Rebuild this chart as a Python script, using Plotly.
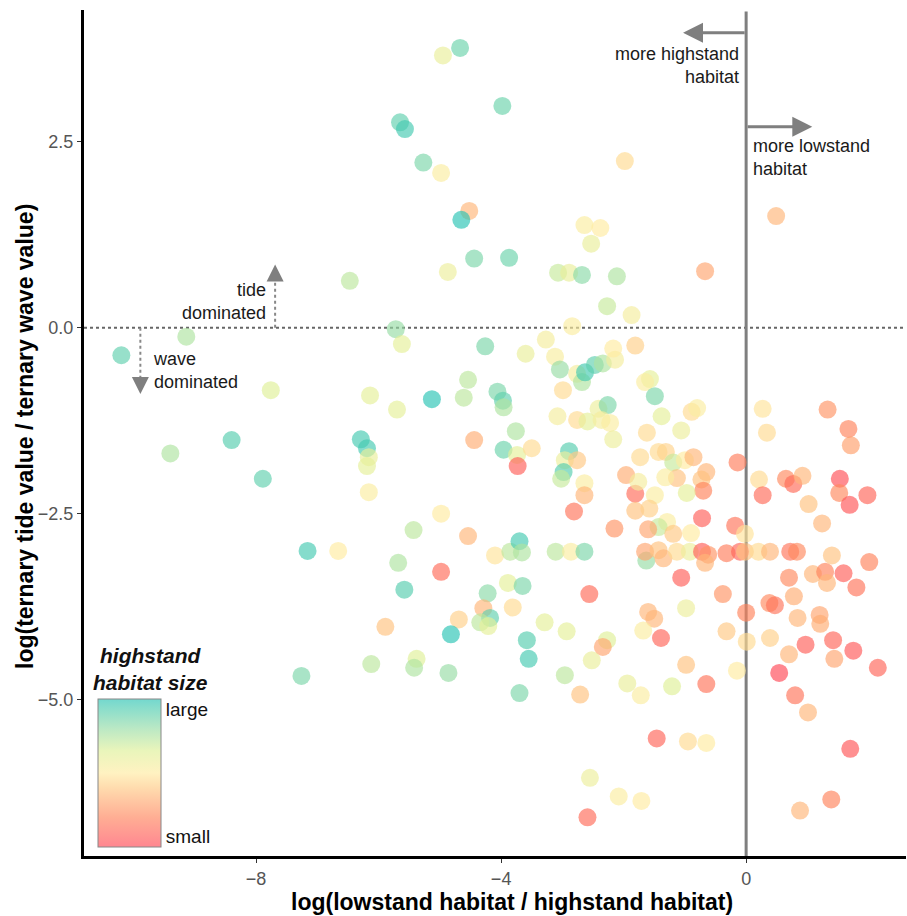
import plotly.graph_objects as go

# log(lowstand habitat / highstand habitat)
x_ratio = [
    -4.95, -4.67, -3.98, -5.65, -5.57, -5.27, -4.98, -1.98, -4.52, -4.65, -2.64, -2.38, -2.53, -4.87, -4.44, -3.87,
    -3.07, -2.89, -2.68, -2.11, -2.27, 0.49, -0.67, -6.47,
    -9.14, -10.20, -7.76, -6.14, -8.40, -9.40, -7.89, -6.29, -6.19, -6.16, -6.19, -6.16, -7.16, -6.66,
    -5.72, -5.62, -4.26, -3.60, -3.27, -2.84, -1.87, -3.12, -3.04, -2.76, -2.68, -2.63, -2.47, -2.34, -2.14, -2.17,
    -1.81, -4.54, -4.61, -5.13, -5.70, -4.06, -3.97, -3.96, -2.99, -3.08, -2.76, -2.59, -2.41, -2.26, -2.36, -2.22,
    -2.17, -3.76, -4.44, -3.96, -3.74, -3.50, -3.73, -2.89, -2.96, -2.76, -2.98, -3.02, -2.64, -2.64, -2.81, -1.96,
    -1.81, -1.81, -2.15, -4.98, -5.43, -4.54, -4.10, -3.85, -3.70, -3.66, -3.11, -2.86, -2.64, -5.68, -4.98, -3.89,
    -3.65,
    -5.58, -4.22, -4.29, -4.18, -4.34, -4.21, -3.81, -4.69, -5.89, -4.82, -5.38, -5.42, -4.86, -6.12, -7.26, -3.58,
    -3.55, -3.70, -3.29, -2.93, -2.56, -2.27, -2.34, -2.52, -2.96, -2.71, -1.94, -1.72, -2.55, -2.08, -1.71, -2.59,
    -1.06, -0.38, -0.98, -1.60, -1.50, -1.68, -1.39, 0.00, -0.32, 0.01, 0.39, -0.98, -0.15, -1.21, -0.65, -1.46,
    -0.95, -0.65, 0.38, 0.47, 0.70, 0.78, 0.84, 0.70, 0.97, 0.54, 0.80, 1.01, 1.20, 1.21, 1.42, 1.44,
    1.75, 2.15, 1.70, 1.39, 0.88, 1.09, 1.29, 1.32, 1.59, 1.80,
    -1.57, -1.65, -1.49, -1.38, -0.89, -0.80, -1.62, -1.06, -1.73, -1.43, -1.31, -1.19, -1.00, -0.86, -0.65, -0.73,
    -0.70, -1.13, -1.32, -1.76, -1.49, -0.97, -1.58, -1.29, -1.43, -1.60, -1.19, -0.90, -0.72, -0.18, -0.02, -0.14,
    -1.63, -1.65, -1.43, -1.35, -1.13, -0.92, -0.72, -0.62, -0.67, -0.32, -0.10, -0.02, 0.20, 0.39, 0.72, 0.83,
    1.40, 2.01, 0.27, 0.34, 1.33, 1.67, 1.71, 0.21, 0.27, 0.65, 0.77, 0.92, 1.02, 1.24, 1.53, 1.52,
    1.69, 1.98,
]

# log(ternary tide value / ternary wave value)
y_ratio = [
    3.66, 3.76, 2.98, 2.76, 2.67, 2.22, 2.08, 2.24, 1.57, 1.45, 1.38, 1.34, 1.13, 0.75, 0.93, 0.94,
    0.74, 0.74, 0.71, 0.69, 0.29, 1.50, 0.76, 0.63,
    -0.12, -0.37, -0.84, -0.91, -1.51, -1.69, -2.03, -1.50, -1.62, -1.74, -1.86, -2.21, -3.00, -3.00,
    -0.02, -0.22, -0.25, -0.35, -0.16, 0.02, 0.17, -0.39, -0.56, -0.62, -0.73, -0.60, -0.50, -0.48, -0.43, -0.28,
    -0.24, -0.70, -0.94, -0.96, -1.10, -0.86, -0.98, -1.07, -0.84, -1.19, -1.24, -1.26, -1.09, -1.04, -1.24, -1.28,
    -1.50, -1.39, -1.51, -1.64, -1.71, -1.62, -1.86, -1.66, -1.78, -1.78, -1.94, -2.03, -2.09, -2.25, -2.47, -1.98,
    -2.23, -2.46, -2.70, -2.50, -2.72, -2.80, -3.06, -3.01, -2.87, -3.02, -3.01, -3.01, -3.01, -3.16, -3.28, -3.43,
    -3.47,
    -3.52, -3.57, -3.77, -3.90, -3.96, -4.01, -3.76, -3.92, -4.02, -4.12, -4.45, -4.57, -4.64, -4.52, -4.68, -4.20,
    -4.45, -4.91, -3.96, -4.08, -3.58, -4.20, -4.29, -4.47, -4.67, -4.93, -4.78, -4.94, -6.05, -6.30, -6.36, -6.58,
    -3.36, -3.58, -3.77, -3.82, -3.91, -4.07, -4.17, -3.83, -4.08, -4.22, -4.17, -4.53, -4.61, -4.82, -4.79, -5.52,
    -5.56, -5.58, -3.70, -3.73, -3.36, -3.61, -3.90, -4.39, -4.26, -4.64, -4.94, -5.17, -3.86, -3.98, -4.20, -4.45,
    -4.34, -4.57, -5.66, -6.34, -6.49, -3.31, -3.28, -3.43, -3.30, -3.49,
    -0.69, -0.73, -0.92, -1.19, -1.13, -1.08, -1.41, -1.38, -1.74, -1.67, -1.67, -1.81, -1.78, -1.74, -1.94, -2.04,
    -2.19, -2.02, -2.01, -2.07, -2.25, -2.22, -2.43, -2.61, -2.68, -2.71, -2.77, -2.76, -2.56, -2.66, -2.77, -1.81,
    -3.13, -3.01, -2.99, -3.10, -3.01, -3.01, -3.01, -3.05, -3.16, -3.03, -3.01, -3.01, -3.01, -3.01, -3.01, -3.01,
    -3.06, -3.15, -1.09, -1.41, -1.10, -1.36, -1.58, -2.04, -2.25, -2.03, -2.10, -1.99, -2.37, -2.63, -2.03, -2.22,
    -2.38, -2.25,
]

# highstand habitat size (0 = small, 1 = large)
habitat_size = [
    0.60, 0.88, 0.88, 0.90, 0.95, 0.85, 0.52, 0.45, 0.35, 1.00, 0.52, 0.50, 0.60, 0.58, 0.85, 0.88,
    0.70, 0.60, 0.82, 0.75, 0.70, 0.35, 0.30, 0.72,
    0.75, 0.90, 0.65, 0.62, 0.92, 0.75, 0.90, 0.95, 0.95, 0.60, 0.62, 0.52, 0.95, 0.50,
    0.80, 0.62, 0.85, 0.60, 0.55, 0.52, 0.55, 0.53, 0.80, 0.55, 0.75, 0.95, 0.90, 0.75, 0.55, 0.50,
    0.42, 0.72, 0.72, 1.00, 0.62, 0.85, 0.90, 0.75, 0.45, 0.55, 0.45, 0.62, 0.58, 0.85, 0.55, 0.52,
    0.58, 0.75, 0.32, 0.88, 0.62, 0.45, 0.08, 0.92, 0.58, 0.40, 0.92, 0.70, 0.52, 0.35, 0.15, 0.32,
    0.12, 0.38, 0.25, 0.50, 0.72, 0.35, 0.48, 0.72, 0.95, 0.75, 0.72, 0.52, 0.85, 0.75, 0.12, 0.62,
    0.85,
    0.92, 0.82, 0.35, 0.90, 0.72, 0.62, 0.45, 0.42, 0.38, 1.00, 0.65, 0.75, 0.80, 0.72, 0.85, 0.92,
    0.95, 0.85, 0.62, 0.62, 0.12, 0.65, 0.30, 0.60, 0.72, 0.38, 0.60, 0.52, 0.58, 0.52, 0.50, 0.12,
    0.08, 0.25, 0.58, 0.35, 0.35, 0.52, 0.10, 0.20, 0.40, 0.45, 0.42, 0.38, 0.50, 0.65, 0.15, 0.10,
    0.45, 0.50, 0.22, 0.15, 0.22, 0.32, 0.35, 0.35, 0.08, 0.00, 0.15, 0.35, 0.30, 0.32, 0.10, 0.30,
    0.06, 0.10, 0.05, 0.20, 0.35, 0.35, 0.20, 0.35, 0.08, 0.15,
    0.62, 0.52, 0.85, 0.62, 0.45, 0.52, 0.45, 0.58, 0.45, 0.45, 0.43, 0.70, 0.50, 0.35, 0.35, 0.38,
    0.20, 0.38, 0.52, 0.55, 0.52, 0.62, 0.42, 0.52, 0.70, 0.30, 0.40, 0.50, 0.08, 0.15, 0.48, 0.18,
    0.80, 0.30, 0.38, 0.35, 0.45, 0.58, 0.08, 0.25, 0.35, 0.18, 0.10, 0.38, 0.45, 0.35, 0.15, 0.22,
    0.38, 0.20, 0.48, 0.45, 0.25, 0.20, 0.28, 0.45, 0.12, 0.22, 0.12, 0.35, 0.38, 0.35, 0.03, 0.22,
    0.05, 0.10,
]

x_range = [-10.81, 2.61]
y_range = [-7.10, 4.27]

colorscale = [
    [0.0, "rgba(255,70,85,0.65)"],
    [0.2, "rgba(255,130,90,0.65)"],
    [0.4, "rgba(255,200,130,0.65)"],
    [0.5, "rgba(255,235,160,0.65)"],
    [0.65, "rgba(222,240,150,0.65)"],
    [0.8, "rgba(150,220,165,0.65)"],
    [1.0, "rgba(40,195,180,0.65)"],
]

FONT = "Liberation Sans, Arial, Helvetica, sans-serif"
GREY = "#7f7f7f"

fig = go.Figure()
fig.add_trace(go.Scatter(
    x=x_ratio, y=y_ratio, mode="markers",
    marker=dict(
        size=18, color=habitat_size, colorscale=colorscale, cmin=0, cmax=1,
        line=dict(width=0),
        showscale=True,
        colorbar=dict(
            x=(98 - 84) / 822, xanchor="left",
            y=(856 - 847) / 846, yanchor="bottom",
            len=148, lenmode="pixels",
            thickness=63, thicknessmode="pixels",
            xpad=0, ypad=0,
            outlinecolor="#888888", outlinewidth=1,
            tickvals=[0.07, 0.93], ticktext=["small", "large"],
            ticks="", ticklen=2,
            tickfont=dict(family=FONT, size=19, color="#111111"),
            bgcolor="rgba(0,0,0,0)",
        ),
    ),
    hoverinfo="x+y",
    showlegend=False,
))

shapes = [
    dict(type="line", xref="x", yref="y", x0=x_range[0], x1=x_range[1], y0=0, y1=0,
         line=dict(color="#666666", width=2, dash="dot"), layer="below"),
    dict(type="line", xref="x", yref="y", x0=0, x1=0, y0=y_range[0], y1=4.25,
         line=dict(color=GREY, width=3), layer="below"),
    dict(type="line", xref="x", yref="y", x0=-7.69, x1=-7.69, y0=0, y1=0.7,
         line=dict(color="#888888", width=2, dash="dot")),
    dict(type="line", xref="x", yref="y", x0=-9.89, x1=-9.89, y0=0, y1=-0.72,
         line=dict(color="#888888", width=2, dash="dot")),
]

annotations = [
    # arrows
    dict(x=-1.03, y=3.965, ax=0, ay=3.965, xref="x", yref="y", axref="x", ayref="y",
         showarrow=True, arrowhead=2, arrowsize=1.33, arrowwidth=3, arrowcolor=GREY, text=""),
    dict(x=1.08, y=2.70, ax=0, ay=2.70, xref="x", yref="y", axref="x", ayref="y",
         showarrow=True, arrowhead=2, arrowsize=1.33, arrowwidth=3, arrowcolor=GREY, text=""),
    dict(x=-7.69, y=0.85, ax=-7.69, ay=0.62, xref="x", yref="y", axref="x", ayref="y",
         showarrow=True, arrowhead=2, arrowsize=1.7, arrowwidth=2, arrowcolor=GREY, text=""),
    dict(x=-9.89, y=-0.89, ax=-9.89, ay=-0.66, xref="x", yref="y", axref="x", ayref="y",
         showarrow=True, arrowhead=2, arrowsize=1.7, arrowwidth=2, arrowcolor=GREY, text=""),
    # labels
    dict(x=-0.08, y=3.52, xref="x", yref="y", text="more highstand<br>habitat", showarrow=False,
         xanchor="right", yanchor="middle", align="right",
         font=dict(family=FONT, size=18, color="#1a1a1a")),
    dict(x=0.08, y=2.285, xref="x", yref="y", text="more lowstand<br>habitat", showarrow=False,
         xanchor="left", yanchor="middle", align="left",
         font=dict(family=FONT, size=18, color="#1a1a1a")),
    dict(x=-7.80, y=0.35, xref="x", yref="y", text="tide<br>dominated", showarrow=False,
         xanchor="right", yanchor="middle", align="right",
         font=dict(family=FONT, size=18, color="#1a1a1a")),
    dict(x=-9.71, y=-0.578, xref="x", yref="y", text="wave<br>dominated", showarrow=False,
         xanchor="left", yanchor="middle", align="left",
         font=dict(family=FONT, size=18, color="#1a1a1a")),
    # legend title
    dict(x=-9.73, y=-4.58, xref="x", yref="y", text="<b><i>highstand<br>habitat size</i></b>",
         showarrow=False, xanchor="center", yanchor="middle", align="center",
         font=dict(family=FONT, size=21, color="#111111")),
    # axis titles
    dict(x=(512 - 84) / 822, y=(856 - 902) / 846, xref="paper", yref="paper",
         text="<b>log(lowstand habitat / highstand habitat)</b>", showarrow=False,
         xanchor="center", yanchor="middle",
         font=dict(family=FONT, size=23, color="#000000")),
    dict(x=(25 - 84) / 822, y=(856 - 437) / 846, xref="paper", yref="paper",
         text="<b>log(ternary tide value / ternary wave value)</b>", showarrow=False,
         xanchor="center", yanchor="middle", textangle=-90,
         font=dict(family=FONT, size=23, color="#000000")),
]

fig.update_layout(
    width=907, height=916,
    margin=dict(l=84, r=1, t=10, b=60),
    paper_bgcolor="white", plot_bgcolor="white",
    shapes=shapes, annotations=annotations,
    font=dict(family=FONT),
    xaxis=dict(
        range=x_range, tickvals=[-8, -4, 0], ticktext=["\u22128", "\u22124", "0"],
        showgrid=False, zeroline=False, showline=True, linecolor="black", linewidth=3,
        ticks="outside", ticklen=4, tickwidth=1, tickcolor="#333333",
        tickfont=dict(family=FONT, size=18, color="#555555"),
    ),
    yaxis=dict(
        range=y_range, tickvals=[-5, -2.5, 0, 2.5], ticktext=["\u22125.0", "\u22122.5", "0.0", "2.5"],
        showgrid=False, zeroline=False, showline=True, linecolor="black", linewidth=3,
        ticks="outside", ticklen=4, tickwidth=1, tickcolor="#333333",
        tickfont=dict(family=FONT, size=18, color="#555555"),
    ),
)

fig.write_html("out.html")
